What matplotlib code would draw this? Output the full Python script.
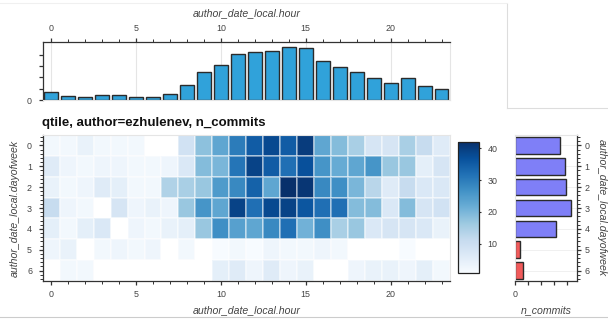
import matplotlib

matplotlib.use("Agg")
import matplotlib.pyplot as plt  # noqa: E402
import numpy as np  # noqa: E402
from matplotlib.lines import Line2D  # noqa: E402
from matplotlib.ticker import MultipleLocator  # noqa: E402

plt.rcParams["font.family"] = ["Liberation Sans", "DejaVu Sans"]

TITLE = "qtile, author=ezhulenev, n_commits"
X_LABEL = "author_date_local.hour"
Y_LABEL = "author_date_local.dayofweek"
N_LABEL = "n_commits"

HOURS = list(range(24))
DAYS = list(range(7))

# commits per hour (top histogram)
HOUR_COMMITS = [30, 13, 12, 19, 17, 10, 10, 22, 55, 98, 124, 163,
                169, 175, 188, 183, 140, 119, 98, 79, 61, 78, 50, 40]

# commits per day of week (right bars)
DAY_COMMITS = [345, 386, 391, 427, 311, 36, 57]
WEEKEND = [False, False, False, False, False, True, True]

# rows = dayofweek 0..6, cols = hour 0..23 (0 = no commits)
COMMITS = [
    [2, 2, 4, 2, 2, 2, 0, 0, 9, 18, 23, 30, 35, 38, 35, 40, 23, 19, 15, 8, 8, 15, 11, 6],
    [6, 3, 2, 3, 3, 2, 2, 3, 7, 19, 20, 31, 39, 35, 32, 37, 26, 22, 23, 26, 17, 17, 5, 8],
    [4, 2, 3, 6, 5, 2, 2, 14, 15, 17, 25, 28, 34, 23, 42, 41, 28, 27, 20, 13, 6, 11, 7, 7],
    [11, 3, 2, 0, 8, 3, 4, 3, 17, 26, 23, 39, 32, 38, 39, 36, 32, 32, 19, 19, 7, 19, 8, 9],
    [5, 2, 5, 7, 0, 3, 2, 4, 5, 17, 27, 24, 23, 28, 32, 21, 27, 15, 17, 7, 8, 8, 7, 4],
    [3, 4, 0, 2, 3, 2, 3, 0, 2, 0, 1, 2, 1, 3, 2, 2, 3, 2, 0, 0, 0, 1, 0, 0],
    [0, 2, 2, 0, 0, 0, 0, 0, 0, 0, 5, 6, 3, 6, 3, 4, 0, 0, 3, 4, 4, 3, 5, 2],
]

AXIS = "#333333"
FRAME = "#e5e5e5"
TEXT = "#444444"
TICK_FS = 6.4
LABEL_FS = 7.6
PX = 0.72  # one pixel in points at dpi 100

W, H = 608, 324


def box(x0, y0, x1, y1):
    """pixel box (from top-left) -> figure fraction rect"""
    return [x0 / W, 1 - y1 / H, (x1 - x0) / W, (y1 - y0) / H]


def style(ax, dark):
    for name, sp in ax.spines.items():
        sp.set_color(AXIS if name in dark else FRAME)
        sp.set_linewidth(0.9 if name in dark else 0.8)
    ax.tick_params(which="major", length=4 * PX, width=0.9, color=AXIS,
                   labelsize=TICK_FS, labelcolor=TEXT)
    ax.tick_params(which="minor", length=2.7 * PX, width=0.7, color=AXIS)


fig = plt.figure(figsize=(W / 100, H / 100), dpi=100)

# --- top histogram ---
ax_h = fig.add_axes(box(42.7, 42.3, 450, 100))
ax_h.bar(HOURS, HOUR_COMMITS, width=0.82, color="#30a2da",
         edgecolor="#2b2b2b", linewidth=1.0, zorder=2)
ax_h.set_xlim(-0.5, 23.5)
ax_h.set_ylim(0, 205)
ax_h.xaxis.tick_top()
ax_h.xaxis.set_label_position("top")
ax_h.xaxis.set_major_locator(MultipleLocator(5))
ax_h.xaxis.set_minor_locator(MultipleLocator(1))
ax_h.set_yticks([0, 40, 80, 120, 160])
ax_h.set_yticklabels(["0", "", "", "", ""])
style(ax_h, {"top", "left"})
ax_h.tick_params(axis="x", pad=5.2 * PX)
ax_h.tick_params(axis="y", pad=6.7 * PX)
ax_h.grid(axis="x", color=FRAME, linewidth=0.8, zorder=0)
ax_h.set_xlabel(X_LABEL, fontsize=LABEL_FS, style="italic", color=TEXT,
                va="center")
ax_h.xaxis.set_label_coords(0.5, 1.5)

# --- heatmap ---
ax_m = fig.add_axes(box(42.7, 135, 450, 281))
data = np.ma.masked_equal(np.array(COMMITS, dtype=float), 0)
cmap = plt.get_cmap("Blues").copy()
cmap.set_bad("white")
xe = np.arange(len(HOURS) + 1) - 0.5
ye = np.arange(len(DAYS) + 1) - 0.5
mesh = ax_m.pcolormesh(xe, ye, data, cmap=cmap, vmin=1, vmax=42,
                       edgecolors=(1, 1, 1, 0.4), linewidth=0.3)
ax_m.set_xlim(-0.5, 23.5)
ax_m.set_ylim(6.5, -0.5)
ax_m.xaxis.set_major_locator(MultipleLocator(5))
ax_m.xaxis.set_minor_locator(MultipleLocator(1))
ax_m.yaxis.set_major_locator(MultipleLocator(1))
ax_m.yaxis.set_minor_locator(MultipleLocator(0.2))
style(ax_m, {"bottom", "left"})
ax_m.tick_params(axis="x", pad=4.6 * PX)
ax_m.tick_params(axis="y", pad=6.7 * PX)
ax_m.set_xlabel(X_LABEL, fontsize=LABEL_FS, style="italic", color=TEXT,
                va="center")
ax_m.xaxis.set_label_coords(0.5, -0.199)
ax_m.set_ylabel(Y_LABEL, fontsize=LABEL_FS, style="italic", color=TEXT,
                va="center")
ax_m.yaxis.set_label_coords(-0.068, 0.5)

fig.text(42 / W, 1 - 123 / H, TITLE, ha="left", va="center",
         fontsize=9.5, fontweight="bold", color="#111111")

# --- colorbar ---
cax = fig.add_axes(box(458.3, 141.7, 479.3, 272.7))
cb = fig.colorbar(mesh, cax=cax, ticks=[10, 20, 30, 40])
cb.outline.set_edgecolor("#222222")
cb.outline.set_linewidth(0.9)
cax.tick_params(length=2.5 * PX, width=0.8, color=AXIS, labelsize=TICK_FS,
                labelcolor=TEXT, pad=5.5 * PX)
cax.minorticks_off()

# --- day-of-week bars ---
ax_b = fig.add_axes(box(515.3, 135, 576.7, 281))
colors = ["#f05a5a" if w else "#7f7ff7" for w in WEEKEND]
ax_b.barh(DAYS, DAY_COMMITS, height=0.8, color=colors,
          edgecolor="#2b2b2b", linewidth=1.0, zorder=2)
ax_b.set_ylim(6.5, -0.5)
ax_b.set_xlim(0, 473)
ax_b.yaxis.tick_right()
ax_b.yaxis.set_major_locator(MultipleLocator(1))
ax_b.yaxis.set_minor_locator(MultipleLocator(0.2))
ax_b.set_xticks([0, 100, 200, 300, 400])
ax_b.set_xticklabels(["0", "", "", "", ""])
style(ax_b, {"bottom", "right"})
ax_b.tick_params(axis="x", pad=4.6 * PX)
ax_b.tick_params(axis="y", pad=4 * PX)
ax_b.grid(axis="y", color="#eeeeee", linewidth=0.6, zorder=0)
ax_b.set_xlabel(N_LABEL, fontsize=LABEL_FS, style="italic", color=TEXT,
                va="center")
ax_b.xaxis.set_label_coords(0.497, -0.199)
ax_b.yaxis.set_label_position("right")
ax_b.set_ylabel(Y_LABEL, fontsize=LABEL_FS, style="italic", color=TEXT,
                rotation=270, va="center", ha="center")
ax_b.yaxis.set_label_coords(1.407, 0.5)


# --- panel borders of the layout ---
def hline(y, x0, x1, color):
    fig.add_artist(Line2D([x0 / W, x1 / W], [1 - y / H] * 2, color=color,
                          linewidth=0.8, transform=fig.transFigure))


def vline(x, y0, y1, color):
    fig.add_artist(Line2D([x / W] * 2, [1 - y0 / H, 1 - y1 / H], color=color,
                          linewidth=0.8, transform=fig.transFigure))


hline(3, 0, 507, "#f0f0f0")
vline(506.7, 4, 108.3, "#dddddd")
hline(108.3, 506.7, 608, "#dddddd")
hline(317.3, 0, 608, "#cccccc")

fig.savefig("out.png", dpi=100)
